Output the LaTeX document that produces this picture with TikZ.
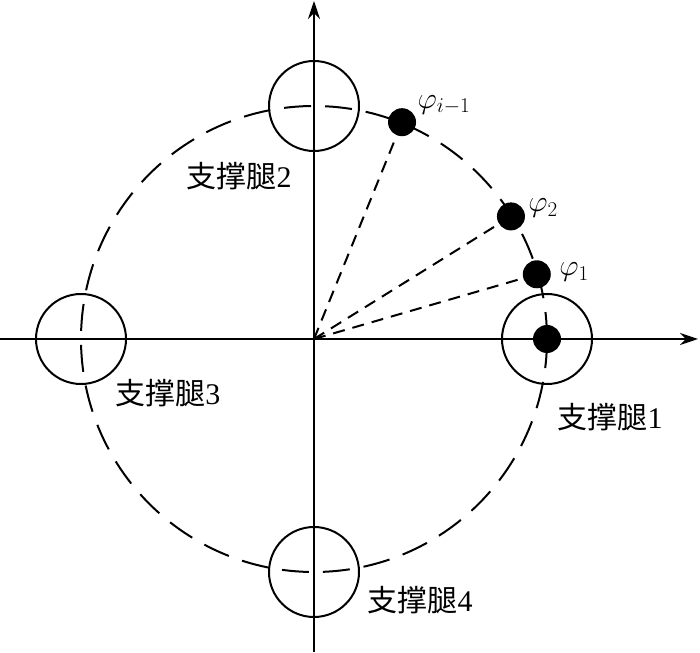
\RequirePackage{fix-cm}
\documentclass[tikz,border=0pt]{standalone}
\usepackage{fontspec}
\setmainfont{Liberation Serif}
\newfontfamily\cjk{Noto Sans CJK SC}
\usetikzlibrary{arrows.meta}

\begin{document}
\begin{tikzpicture}[x=1pt,y=1pt,line width=2pt,
						leg/.style={circle,draw,line width=2pt,inner sep=0pt,minimum size=90pt},
						blackdot/.style={circle,fill=black,inner sep=0pt,minimum size=28pt},
						legname/.style={font=\fontsize{30}{30}\selectfont},
						angname/.style={font=\fontsize{30}{30}\selectfont,inner sep=0pt}]
		\useasboundingbox (-314,-313) rectangle (386,339);

		\coordinate (o) at (0,0);
		\coordinate (xs) at (-314,0);
		\coordinate (xe) at (384,0);
		\coordinate (ys) at (0,-313);
		\coordinate (ye) at (0,338);

		% axes
		\draw[-{Stealth[length=18pt,width=12pt]}] (xs) -- (xe);
		\draw[-{Stealth[length=18pt,width=12pt]}] (ys) -- (ye);

		% track of the legs
		\draw[dash pattern=on 27pt off 14pt] (o) circle (233);

		\node[leg]							(leg1)	at (0:233)		{};
		\node[leg]							(leg2)	at (90:233)		{};
		\node[leg]							(leg3)	at (180:233)	{};
		\node[leg]							(leg4)	at (270:233)	{};
		\node[blackdot]						(p0)	at (leg1)		{};
		\node[blackdot]						(p1)	at (16.2:232)	{};
		\node[blackdot]						(p2)	at (31.9:232)	{};
		\node[blackdot]						(pi)	at (67.9:234)	{};

		\draw[dash pattern=on 12pt off 8pt] (o) -- (p1);
		\draw[dash pattern=on 12pt off 8pt] (o) -- (p2);
		\draw[dash pattern=on 12pt off 8pt] (o) -- (pi);

		\node[angname]						(a1)	at (260,67)		{$\varphi_1$};
		\node[angname]						(a2)	at (229,131)	{$\varphi_2$};
		\node[angname]						(ai)	at (130,234)	{$\varphi_{i-1}$};

		\node[legname]						(n1)	at (296,-78)	{{\cjk 支撑腿}1};
		\node[legname]						(n2)	at (-75,163)	{{\cjk 支撑腿}2};
		\node[legname]						(n3)	at (-146,-54)	{{\cjk 支撑腿}3};
		\node[legname]						(n4)	at (106,-261)	{{\cjk 支撑腿}4};
	\end{tikzpicture}
\end{document}
